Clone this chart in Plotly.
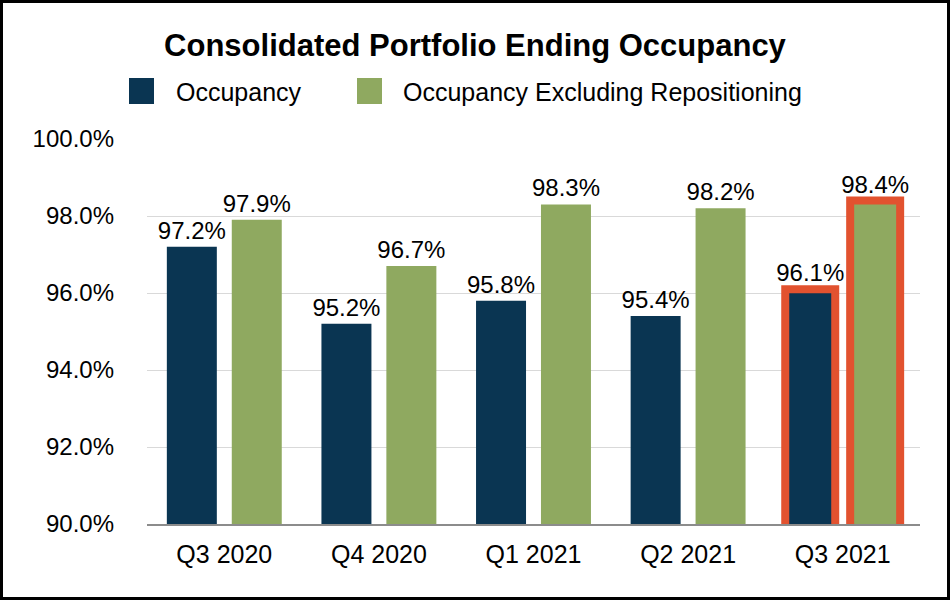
import plotly.graph_objects as go

categories = ["Q3 2020", "Q4 2020", "Q1 2021", "Q2 2021", "Q3 2021"]
occupancy = [97.2, 95.2, 95.8, 95.4, 96.1]
occupancy_ex_repos = [97.9, 96.7, 98.3, 98.2, 98.4]
series_names = ["Occupancy", "Occupancy Excluding Repositioning"]
highlight = [False, False, False, False, True]
y_ticks = [90, 92, 94, 96, 98, 100]

NAVY = "#0a3552"
GREEN = "#8fa960"
ORANGE = "#e2522f"
FONT = "Liberation Sans, Arial, sans-serif"

W, H = 950, 600
L, R, T, B = 147, 30, 139, 76
PW, PH = W - L - R, H - T - B


def px(x):
    return (x - L) / PW


def py(y):
    return (H - B - y) / PH


line_w = [8 if h else 0 for h in highlight]
line_c = [ORANGE if h else "rgba(0,0,0,0)" for h in highlight]

fig = go.Figure()
for name, vals, col in [(series_names[0], occupancy, NAVY), (series_names[1], occupancy_ex_repos, GREEN)]:
    fig.add_trace(go.Bar(
        x=categories, y=vals, name=name,
        marker=dict(color=col, line=dict(width=line_w, color=line_c)),
        text=[f"{v:.1f}%" for v in vals], textposition="outside",
        textfont=dict(family=FONT, size=24, color="black"),
        constraintext="none", cliponaxis=False, showlegend=False,
    ))

fig.update_layout(
    width=W, height=H, margin=dict(l=L, r=R, t=T, b=B),
    paper_bgcolor="white", plot_bgcolor="white",
    barmode="group", bargap=0.16, bargroupgap=0.23,
    title=dict(text="<b>Consolidated Portfolio Ending Occupancy</b>",
               x=0.5, xanchor="center", y=1 - 45 / H, yanchor="middle",
               font=dict(family=FONT, size=31, color="black")),
    font=dict(family=FONT, color="black"),
    yaxis=dict(range=[90, 100], tickvals=y_ticks,
               ticktext=[f"{v:.1f}%" for v in y_ticks],
               tickfont=dict(size=24, color="black"),
               showgrid=True, gridcolor="#d9d9d9", gridwidth=1,
               zeroline=False, showline=False, ticklabelstandoff=32),
    xaxis=dict(tickfont=dict(size=25, color="black"), showline=True,
               linecolor="#8c8c8c", linewidth=2, ticklabelstandoff=7),
)

# manual legend
legend_items = [(series_names[0], NAVY, 129, 174), (series_names[1], GREEN, 357, 401)]
for name, col, sx, tx in legend_items:
    fig.add_shape(type="rect", xref="paper", yref="paper",
                  x0=px(sx), x1=px(sx + 25), y0=py(104), y1=py(78),
                  fillcolor=col, line=dict(width=0))
    fig.add_annotation(xref="paper", yref="paper", x=px(tx), y=py(92),
                       xanchor="left", yanchor="middle", showarrow=False,
                       text=name, font=dict(family=FONT, size=25, color="black"))

# outer border
fig.add_shape(type="rect", xref="paper", yref="paper",
              x0=px(1.5), x1=px(W - 1.5), y0=py(H - 1.5), y1=py(1.5),
              line=dict(color="black", width=3), fillcolor="rgba(0,0,0,0)")

fig.write_html("out.html", config={"displayModeBar": False},
               post_script="document.body.style.margin='0';document.body.style.padding='0';")
